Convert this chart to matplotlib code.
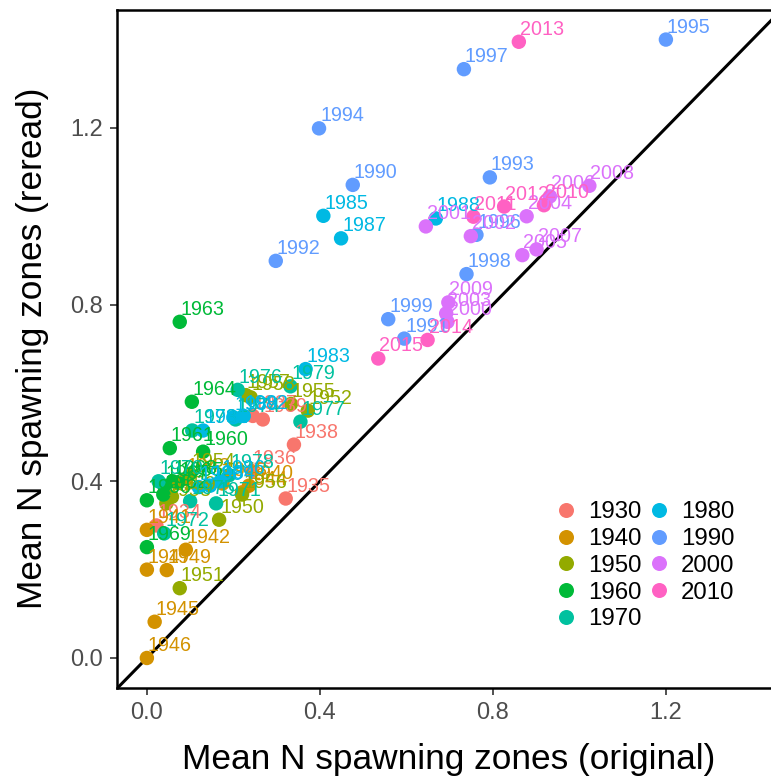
import matplotlib
matplotlib.use("Agg")
import matplotlib.pyplot as plt
from matplotlib.lines import Line2D

plt.rcParams['font.family'] = ['Liberation Sans', 'DejaVu Sans']

# mean number of spawning zones per year: original reading vs. reread
years = [1934, 1935, 1936, 1937, 1938, 1939,
         1940, 1941, 1942, 1943, 1944, 1945, 1946, 1947, 1948, 1949,
         1950, 1951, 1952, 1953, 1954, 1955, 1956, 1957, 1958, 1959,
         1960, 1961, 1962, 1963, 1964, 1965, 1966, 1967, 1968, 1969,
         1970, 1971, 1972, 1973, 1974, 1975, 1976, 1977, 1978, 1979,
         1980, 1981, 1982, 1983, 1984, 1985, 1986, 1987, 1988, 1989,
         1990, 1991, 1992, 1993, 1994, 1995, 1996, 1997, 1998, 1999,
         2000, 2001, 2002, 2003, 2004, 2005, 2006, 2007, 2008, 2009,
         2010, 2011, 2012, 2013, 2014, 2015]

original = [0.022, 0.321, 0.243, 0.245, 0.340, 0.268,
            0.236, 0.000, 0.090, 0.090, 0.220, 0.018, 0.000, 0.000, 0.175, 0.046,
            0.167, 0.076, 0.372, 0.045, 0.100, 0.333, 0.220, 0.229, 0.240, 0.058,
            0.130, 0.053, 0.038, 0.076, 0.104, 0.072, 0.000, 0.040, 0.060, 0.000,
            0.027, 0.160, 0.040, 0.105, 0.205, 0.100, 0.210, 0.355, 0.190, 0.332,
            0.120, 0.130, 0.224, 0.367, 0.146, 0.408, 0.170, 0.449, 0.668, 0.200,
            0.476, 0.595, 0.298, 0.793, 0.398, 1.200, 0.762, 0.733, 0.739, 0.558,
            0.695, 0.645, 0.749, 0.692, 0.878, 0.868, 0.932, 0.901, 1.023, 0.697,
            0.918, 0.755, 0.826, 0.860, 0.649, 0.535]

reread = [0.300, 0.361, 0.423, 0.548, 0.483, 0.540,
          0.390, 0.290, 0.245, 0.405, 0.375, 0.082, 0.000, 0.200, 0.395, 0.199,
          0.313, 0.158, 0.560, 0.350, 0.417, 0.575, 0.370, 0.595, 0.590, 0.365,
          0.467, 0.475, 0.370, 0.761, 0.580, 0.396, 0.357, 0.390, 0.400, 0.251,
          0.400, 0.350, 0.282, 0.515, 0.540, 0.355, 0.607, 0.535, 0.414, 0.615,
          0.387, 0.515, 0.548, 0.654, 0.390, 1.001, 0.400, 0.950, 0.995, 0.545,
          1.071, 0.723, 0.899, 1.088, 1.199, 1.400, 0.958, 1.333, 0.869, 0.767,
          0.761, 0.977, 0.955, 0.780, 1.000, 0.912, 1.045, 0.925, 1.069, 0.805,
          1.025, 0.999, 1.022, 1.395, 0.720, 0.678]

decades = [1930, 1940, 1950, 1960, 1970, 1980, 1990, 2000, 2010]
decade_colors = ["#F8766D", "#D39200", "#93AA00", "#00BA38", "#00C19F",
                 "#00B9E3", "#619CFF", "#DB72FB", "#FF61C3"]
color_of = dict(zip(decades, decade_colors))
point_colors = [color_of[(y // 10) * 10] for y in years]

fig = plt.figure(figsize=(7.71, 7.79), dpi=100)
ax = fig.add_axes([0.1518, 0.1168, 0.8482, 0.8704])

# 1:1 reference line
ax.plot([-0.2, 1.6], [-0.2, 1.6], color="black", linewidth=2.2, zorder=1)

ax.scatter(original, reread, s=108, c=point_colors, linewidths=0, zorder=2)

for yr, xv, yv, col in zip(years, original, reread, point_colors):
    ax.annotate(str(yr), (xv, yv), xytext=(1, 7), textcoords="offset pixels",
                ha="left", va="baseline", fontsize=14.2, color=col, zorder=3)

ax.set_xlim(-0.069, 1.443)
ax.set_ylim(-0.068, 1.467)
ticks = [0.0, 0.4, 0.8, 1.2]
ax.set_xticks(ticks)
ax.set_yticks(ticks)
ax.set_xticklabels([f"{t:.1f}" for t in ticks])
ax.set_yticklabels([f"{t:.1f}" for t in ticks])
ax.tick_params(axis="both", labelsize=17, labelcolor="#4D4D4D", color="#333333",
               length=5, width=1.2, pad=5)

for side in ["left", "bottom", "top"]:
    ax.spines[side].set_linewidth(1.8)
    ax.spines[side].set_color("black")
ax.spines["right"].set_visible(False)

ax.set_xlabel("Mean N spawning zones (original)", fontsize=25.4)
ax.set_ylabel("Mean N spawning zones (reread)", fontsize=25.4)
ax.xaxis.set_label_coords(0.5076, -0.081)
ax.yaxis.set_label_coords(-0.104, 0.5007)

handles = [Line2D([0], [0], marker="o", linestyle="", markersize=10.8,
                  markerfacecolor=c, markeredgewidth=0, label=str(d))
           for d, c in zip(decades, decade_colors)]
ax.legend(handles=handles, ncol=2, loc="upper left", bbox_to_anchor=(0.654, 0.2897),
          frameon=False, fontsize=17.3, handletextpad=0.4, columnspacing=0.25,
          labelspacing=0.2, handlelength=1.0, borderaxespad=0)

fig.savefig("out.png", dpi=100)
